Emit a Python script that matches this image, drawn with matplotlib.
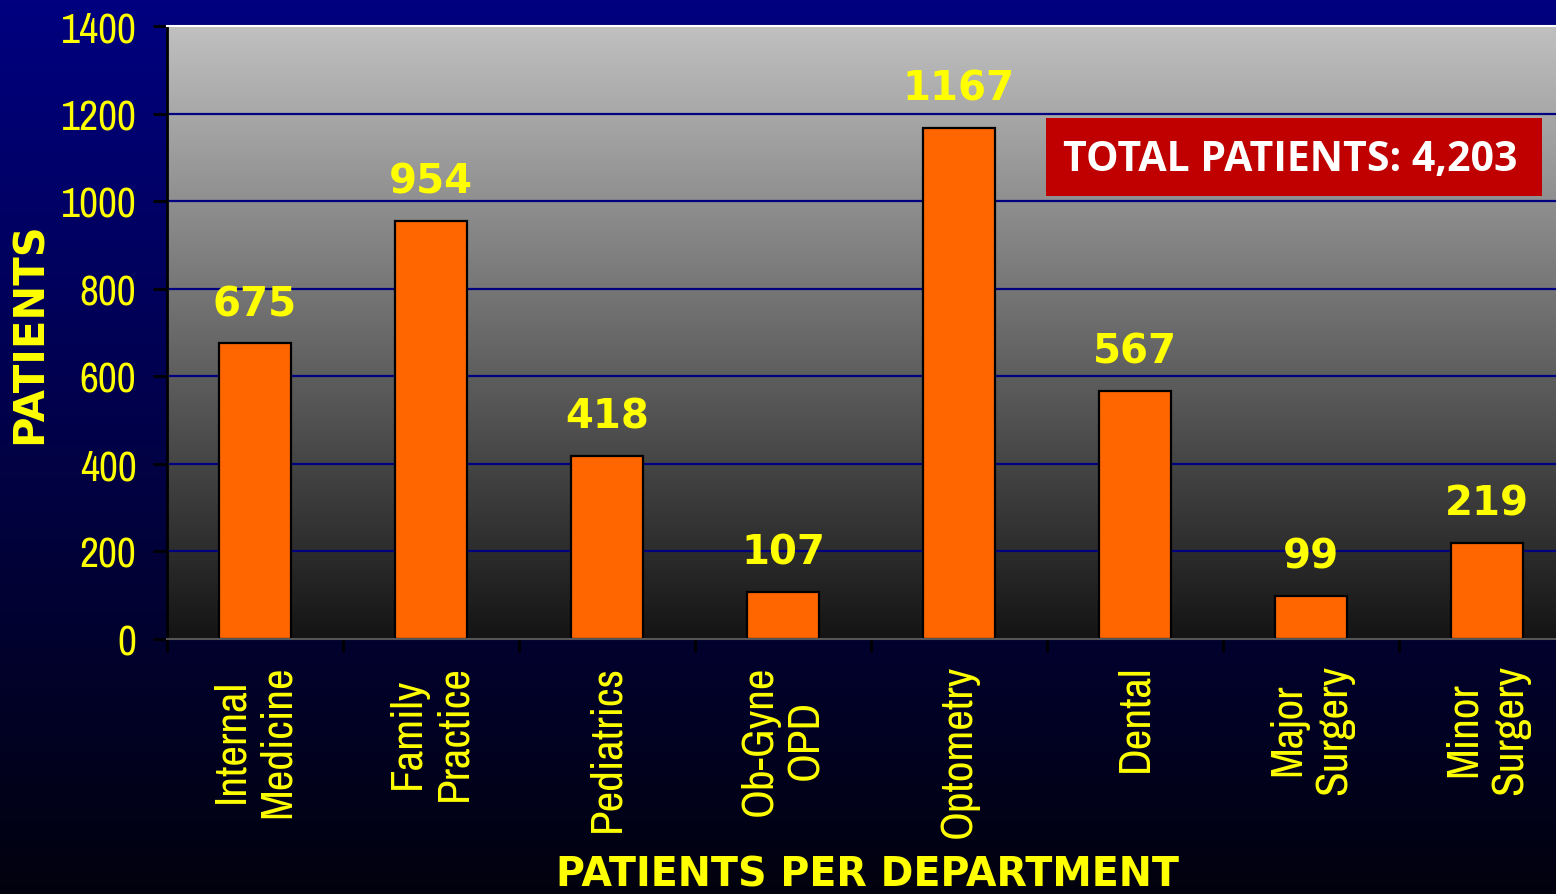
import numpy as np
import matplotlib.pyplot as plt
from matplotlib import font_manager

departments = ["Internal\nMedicine", "Family\nPractice", "Pediatrics", "Ob-Gyne\nOPD",
               "Optometry", "Dental", "Major\nSurgery", "Minor\nSurgery"]
patients = [675, 954, 418, 107, 1167, 567, 99, 219]
y_ticks = [0, 200, 400, 600, 800, 1000, 1200, 1400]
total_text = "TOTAL PATIENTS: 4,203"

YELLOW = "#FFFF00"
NAVY = "#000080"

# look for a condensed face (Arial Narrow look-alike)
narrow_file = None
for f in font_manager.fontManager.ttflist:
    nm = f.name.lower()
    if f.weight in (400, "normal", "regular") and f.style == "normal" and \
            ("narrow" in nm or "condensed" in nm or str(f.stretch) in ("condensed", "semi-condensed", "500")):
        if "mono" in nm or "serif" in nm and "sans" not in nm:
            continue
        narrow_file = f.fname
        if "narrow" in nm:
            break
if narrow_file:
    tick_font = font_manager.FontProperties(fname=narrow_file, size=32.5)
    ytick_font = font_manager.FontProperties(fname=narrow_file, size=30)
else:
    tick_font = font_manager.FontProperties(family="Liberation Sans", size=28)
    ytick_font = font_manager.FontProperties(family="Liberation Sans", size=26)

fig = plt.figure(figsize=(15.56, 8.95), dpi=100)

# figure background gradient (navy -> near black)
bg = fig.add_axes([0, 0, 1, 1], zorder=-10)
grad = np.linspace(0, 1, 256).reshape(-1, 1)
top = np.array([0, 0, 128]) / 255
bot = np.array([2, 2, 14]) / 255
bg_img = top + (bot - top) * grad[..., None]
bg.imshow(bg_img, aspect="auto", extent=[0, 1, 0, 1], origin="upper")
bg.set_axis_off()

ax = fig.add_axes([167 / 1556, 255 / 895, 1408 / 1556, 613 / 895])
n = len(departments)
x = np.arange(n)
ax.set_xlim(-0.5, n - 0.5)
ax.set_ylim(0, 1400)

# plot area gradient (light gray -> dark)
gtop = np.array([192, 192, 192]) / 255
gbot = np.array([20, 20, 20]) / 255
ax_img = gtop + (gbot - gtop) * grad[..., None]
ax.imshow(ax_img, aspect="auto", extent=[-0.5, n - 0.5, 0, 1400], origin="upper", zorder=0)

for t in y_ticks[1:-1]:
    ax.axhline(t, color=NAVY, lw=1.6, zorder=1)

bars = ax.bar(x, patients, width=0.41, color="#FF6600", edgecolor="black", linewidth=1.6, zorder=2)

for xi, v in zip(x, patients):
    ax.annotate(str(v), (xi, v), xytext=(0, 14), textcoords="offset points",
                ha="center", va="bottom", color=YELLOW, fontsize=29,
                fontweight="bold", family="DejaVu Sans", zorder=3)

ax.set_yticks(y_ticks)
ax.set_yticklabels([str(t) for t in y_ticks], color=YELLOW, fontproperties=ytick_font)
ax.tick_params(axis="y", direction="out", length=10, width=2, color="black", pad=12)

ax.set_xticks(x)
ax.set_xticklabels(departments, rotation=90, ha="center", va="top", multialignment="center",
                   color=YELLOW, fontproperties=tick_font, linespacing=1.2)
ax.tick_params(axis="x", which="major", length=0, pad=18)
ax.set_xticks(np.arange(n + 1) - 0.5, minor=True)
ax.tick_params(axis="x", which="minor", direction="out", length=9, width=2, color="black")

ax.spines["left"].set_color("black")
ax.spines["left"].set_linewidth(2)
ax.spines["bottom"].set_color("#555555")
ax.spines["bottom"].set_linewidth(1.5)
ax.spines["top"].set_color("white")
ax.spines["top"].set_linewidth(1.5)
ax.spines["right"].set_visible(False)

ax.set_ylabel("PATIENTS", color=YELLOW, fontsize=30, fontweight="bold", family="DejaVu Sans")
ax.yaxis.set_label_coords(-0.083, 0.5)
fig.text(868 / 1556, 1 - 876 / 895, "PATIENTS PER DEPARTMENT", color=YELLOW, fontsize=28.5,
         fontweight="bold", family="DejaVu Sans", ha="center", va="center")

# total box
fig.patches.append(plt.Rectangle((1046 / 1556, 1 - 197 / 895), 496 / 1556, 78 / 895,
                                 transform=fig.transFigure, facecolor="#C00000", edgecolor="none", zorder=5))
fig.text(1290 / 1556, 1 - 161 / 895, total_text, color="white", fontsize=29.5, fontweight="bold",
         family="Open Sans", ha="center", va="center", zorder=6)

fig.savefig("out.png", dpi=100)
